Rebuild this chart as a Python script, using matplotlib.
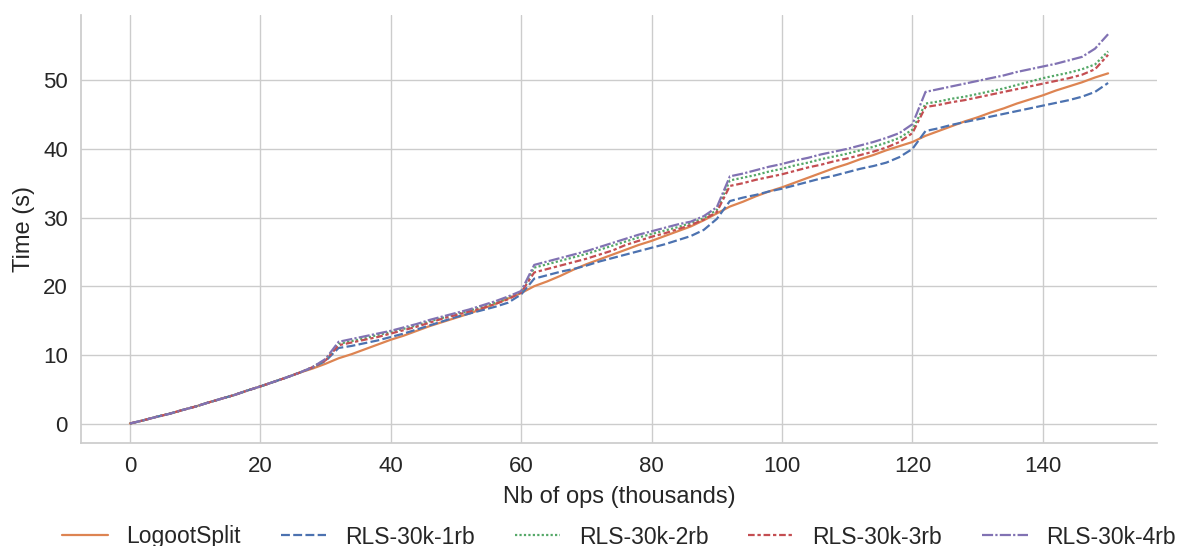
import numpy as np
import matplotlib
matplotlib.use("Agg")
import matplotlib.pyplot as plt
import seaborn as sns

# --- DATA (thousands of ops -> seconds) ---
ops = np.arange(0, 151, 2)

prefix = [0.0, 0.45, 0.95, 1.4, 1.95, 2.45, 3.05, 3.6, 4.15, 4.8,
          5.4, 6.05, 6.7, 7.4]  # 0 .. 26, shared by every series

logootsplit = prefix + [
    8.0, 8.7, 9.5, 10.1, 10.8, 11.5, 12.2, 12.8, 13.5, 14.2,
    14.8, 15.4, 16.0, 16.7, 17.4, 18.2, 19.0, 20.0, 20.7, 21.5,
    22.4, 23.2, 23.9, 24.6, 25.3, 26.0, 26.6, 27.3, 28.0, 28.7,
    29.6, 30.6, 31.6, 32.3, 33.1, 33.8, 34.4, 35.1, 35.8, 36.5,
    37.2, 37.8, 38.5, 39.1, 39.8, 40.4, 41.0, 41.9, 42.6, 43.3,
    44.0, 44.6, 45.3, 45.9, 46.6, 47.2, 47.8, 48.5, 49.1, 49.7,
    50.4, 51.0]

rls_1rb = prefix + [
    8.15, 9.1, 11.0, 11.3, 11.7, 12.1, 12.6, 13.1, 13.7, 14.3,
    14.9, 15.5, 16.0, 16.5, 17.0, 17.6, 18.8, 21.1, 21.6, 22.1,
    22.5, 23.0, 23.6, 24.1, 24.6, 25.1, 25.6, 26.1, 26.7, 27.3,
    28.2, 29.8, 32.4, 32.9, 33.3, 33.8, 34.2, 34.7, 35.2, 35.7,
    36.1, 36.6, 37.1, 37.5, 38.0, 38.8, 40.0, 42.6, 43.0, 43.5,
    43.9, 44.3, 44.7, 45.1, 45.5, 45.9, 46.3, 46.7, 47.1, 47.6,
    48.3, 49.6]

rls_2rb = prefix + [
    8.2, 9.3, 11.6, 12.0, 12.4, 12.9, 13.3, 13.8, 14.3, 14.9,
    15.4, 15.9, 16.4, 17.0, 17.6, 18.3, 19.2, 22.7, 23.2, 23.7,
    24.2, 24.7, 25.3, 25.9, 26.5, 27.1, 27.6, 28.1, 28.6, 29.2,
    29.9, 31.1, 35.4, 35.8, 36.2, 36.7, 37.1, 37.6, 38.0, 38.5,
    38.9, 39.3, 39.8, 40.3, 40.9, 41.6, 42.8, 46.6, 46.9, 47.3,
    47.6, 48.0, 48.4, 48.8, 49.3, 49.8, 50.3, 50.7, 51.1, 51.6,
    52.3, 54.2]

rls_3rb = prefix + [
    8.2, 9.2, 11.4, 11.8, 12.2, 12.6, 13.1, 13.6, 14.1, 14.7,
    15.3, 15.8, 16.3, 16.8, 17.4, 18.1, 19.1, 22.0, 22.5, 23.0,
    23.5, 24.0, 24.6, 25.2, 26.0, 26.6, 27.2, 27.7, 28.3, 28.9,
    29.7, 30.8, 34.6, 35.0, 35.5, 35.9, 36.3, 36.8, 37.3, 37.7,
    38.2, 38.6, 39.1, 39.6, 40.2, 41.0, 42.3, 46.1, 46.4, 46.8,
    47.1, 47.5, 47.9, 48.3, 48.7, 49.1, 49.5, 49.9, 50.3, 50.8,
    51.6, 53.7]

rls_4rb = prefix + [
    8.2, 9.4, 11.9, 12.3, 12.7, 13.1, 13.5, 14.0, 14.5, 15.1,
    15.6, 16.1, 16.6, 17.2, 17.8, 18.5, 19.3, 23.1, 23.6, 24.1,
    24.6, 25.1, 25.7, 26.3, 26.9, 27.5, 28.0, 28.5, 29.0, 29.4,
    30.2, 31.5, 36.0, 36.4, 36.9, 37.4, 37.8, 38.3, 38.7, 39.2,
    39.6, 40.0, 40.5, 41.0, 41.6, 42.3, 43.6, 48.3, 48.7, 49.1,
    49.5, 49.9, 50.3, 50.7, 51.2, 51.6, 52.0, 52.4, 52.9, 53.4,
    54.6, 56.7]

labels = ['LogootSplit', 'RLS-30k-1rb', 'RLS-30k-2rb', 'RLS-30k-3rb', 'RLS-30k-4rb']
series = [logootsplit, rls_1rb, rls_2rb, rls_3rb, rls_4rb]

# --- STYLE ---
sns.set_theme(style="whitegrid")
plt.rcParams['font.family'] = ['Liberation Sans', 'DejaVu Sans']

pal = sns.color_palette("deep")
COLORES = [pal[1], pal[0], pal[2], pal[3], pal[4]]
DASHES = ['', (4, 1.5), (1, 1), (3, 1.25, 1.5, 1.25), (5, 1, 1, 1)]

fig = plt.figure(figsize=(11.78, 5.46), dpi=100)
ax = fig.add_axes([81 / 1178, 1 - 443 / 546, (1157 - 81) / 1178, (443 - 15) / 546])

for lab, ys, col, d in zip(labels, series, COLORES, DASHES):
    line, = ax.plot(ops, ys, color=col, linewidth=1.6, label=lab)
    if d:
        line.set_dashes(d)

ax.set_xlim(-7.5, 157.5)
ax.set_ylim(-2.84, 59.5)
ax.set_xticks(np.arange(0, 141, 20))
ax.set_yticks(np.arange(0, 51, 10))
ax.tick_params(labelsize=16)
ax.set_xlabel('Nb of ops (thousands)', fontsize=17, labelpad=6)
ax.set_ylabel('Time (s)', fontsize=17, labelpad=6)
sns.despine(ax=ax)

# legend centred on the axes, below the x label (partly cut by the figure edge, as in the original)
ax.legend(loc='center', bbox_to_anchor=(0.5, (443 - 537) / 428), ncol=5, frameon=False,
          fontsize=16.5, handlelength=2.0, columnspacing=1.75)

fig.savefig('out.png', dpi=100)
